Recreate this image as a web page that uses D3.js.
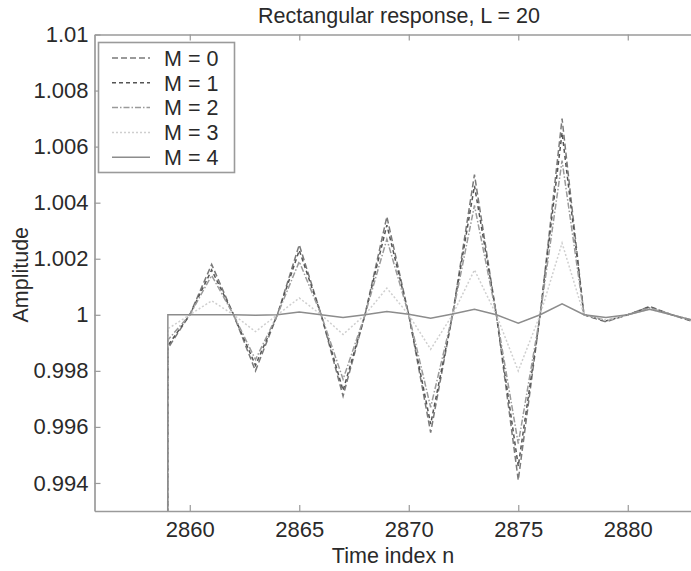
<!DOCTYPE html>
<html>
<head>
<meta charset="utf-8">
<script src="https://cdn.jsdelivr.net/npm/d3@7"></script>
<style>
  html, body { margin: 0; padding: 0; background: #fff; }
  svg { display: block; }
  text { font-family: "Liberation Sans", Arial, sans-serif; fill: #2a2a2a; }
</style>
</head>
<body>
<svg id="chart" width="691" height="571"></svg>
<script>
// ---- data ----
const n = [2858, 2859, 2860, 2861, 2862, 2863, 2864, 2865, 2866, 2867, 2868, 2869, 2870,
           2871, 2872, 2873, 2874, 2875, 2876, 2877, 2878, 2879, 2880, 2881, 2882, 2883];
const m0 = [0, 0.9988, 1.0000, 1.0018, 1.0000, 0.9980, 1.0000, 1.0025, 1.0000, 0.9971, 1.0000, 1.0035, 1.0000,
            0.9958, 1.0000, 1.0050, 1.0000, 0.9941, 1.0000, 1.0070, 1.0000, 0.99975, 1.0000, 1.0003, 1.0000, 0.99975];
const m1 = [0, 0.9989, 1.0000, 1.0016, 1.0000, 0.9982, 1.0000, 1.0023, 1.0000, 0.9973, 1.0000, 1.0032, 1.0000,
            0.9961, 1.0000, 1.0046, 1.0000, 0.9946, 1.0000, 1.0065, 1.0000, 0.99978, 1.0000, 1.00028, 1.0000, 0.99977];
const m2 = [0, 0.9991, 1.0000, 1.0014, 1.0000, 0.9984, 1.0000, 1.0019, 1.0000, 0.9977, 1.0000, 1.0027, 1.0000,
            0.9967, 1.0000, 1.0039, 1.0000, 0.9954, 1.0000, 1.0055, 1.0000, 0.9998, 1.0000, 1.00025, 1.0000, 0.9998];
const m3 = [0, 0.9995, 1.0000, 1.0005, 1.0000, 0.9994, 1.0000, 1.0006, 1.0000, 0.9993, 1.0000, 1.00095, 1.0000,
            0.99877, 1.0000, 1.0016, 1.0000, 0.9980, 1.0000, 1.00256, 1.0000, 0.9998, 1.0000, 1.0002, 1.0000, 0.9998];
const m4 = [0, 1.0000, 1.0000, 1.0000, 1.0000, 0.99998, 1.0000, 1.0001, 1.0000, 0.9999, 1.0000, 1.00012, 1.00002,
            0.99988, 1.00003, 1.0002, 1.0000, 0.9997, 1.0000, 1.00039, 1.0000, 0.9999, 1.0000, 1.0002, 1.0000, 0.9998];
const seriesNames = ["M = 0", "M = 1", "M = 2", "M = 3", "M = 4"];
const seriesValues = [m0, m1, m2, m3, m4];
const xTicks = [2860, 2865, 2870, 2875, 2880];
const yTicks = [0.994, 0.996, 0.998, 1, 1.002, 1.004, 1.006, 1.008, 1.01];
const titleText = "Rectangular response, L = 20";
const xLabel = "Time index n";
const yLabel = "Amplitude";

// ---- styles ----
const styles = [
  { stroke: "#7a7a7a", dash: "6,3", width: 1.5 },
  { stroke: "#555555", dash: "4,3", width: 1.5 },
  { stroke: "#9a9a9a", dash: "6,2,1.5,2", width: 1.5 },
  { stroke: "#cfcfcf", dash: "2,2", width: 1.5 },
  { stroke: "#8c8c8c", dash: null, width: 1.5 }
];

const svg = d3.select("#chart");
const pLeft = 94.5, pTop = 34.5, pBottom = 511;
const x = d3.scaleLinear().domain([2855.65, 2883]).range([pLeft, pLeft + 27.35 * 21.9]);
const y = d3.scaleLinear().domain([0.993, 1.01]).range([pBottom, pTop]);
const pRight = x.range()[1];

svg.append("defs").append("clipPath").attr("id", "clip")
  .append("rect").attr("x", pLeft).attr("y", pTop).attr("width", pRight - pLeft).attr("height", pBottom - pTop);

const axisColor = "#9a9a9a";

// lines
const line = d3.line().x((d, i) => x(n[i])).y(d => y(d));
const g = svg.append("g").attr("clip-path", "url(#clip)");
seriesValues.forEach((vals, k) => {
  const st = styles[k];
  g.append("path").datum(vals)
    .attr("d", line)
    .attr("fill", "none")
    .attr("stroke", st.stroke)
    .attr("stroke-width", st.width)
    .attr("stroke-dasharray", st.dash);
});

// axes (MATLAB-style inward ticks)
const tickLen = 6;
const bottomAxis = d3.axisBottom(x).tickValues(xTicks).tickSize(-tickLen).tickSizeOuter(0).tickPadding(10).tickFormat(d3.format("d"));
const topAxis = d3.axisTop(x).tickValues(xTicks).tickSize(-tickLen).tickSizeOuter(0).tickFormat("");
const leftAxis = d3.axisLeft(y).tickValues(yTicks).tickSize(-tickLen).tickSizeOuter(0).tickPadding(6).tickFormat(d => String(+d.toFixed(3)));

function styleAxis(sel) {
  sel.select(".domain").attr("stroke", axisColor).attr("stroke-width", 1.7);
  sel.selectAll(".tick line").attr("stroke", axisColor).attr("stroke-width", 1.2);
  sel.selectAll(".tick text").style("font-size", "22px").attr("fill", "#2a2a2a");
}

svg.append("g").attr("transform", `translate(0,${pBottom})`).call(bottomAxis).call(styleAxis);
svg.append("g").attr("transform", `translate(0,${pTop})`).call(topAxis).call(styleAxis);
svg.append("g").attr("transform", `translate(${pLeft},0)`).call(leftAxis).call(styleAxis);

// titles
svg.append("text").attr("x", 399).attr("y", 23).attr("text-anchor", "middle")
  .style("font-size", "21.5px").text(titleText);
svg.append("text").attr("x", 393).attr("y", 563).attr("text-anchor", "middle")
  .style("font-size", "21.5px").text(xLabel);
svg.append("text").attr("transform", `translate(27.5,${(pTop + pBottom) / 2 + 2}) rotate(-90)`).attr("text-anchor", "middle")
  .style("font-size", "21.5px").text(yLabel);

// legend
const lg = svg.append("g");
lg.append("rect").attr("x", 98.5).attr("y", 42.5).attr("width", 136).attr("height", 130)
  .attr("fill", "#fff").attr("stroke", axisColor).attr("stroke-width", 1.6);
seriesNames.forEach((name, k) => {
  const yy = 58 + k * 24.8;
  const st = styles[k];
  lg.append("line").attr("x1", 112).attr("x2", 150).attr("y1", yy).attr("y2", yy)
    .attr("stroke", st.stroke).attr("stroke-width", st.width).attr("stroke-dasharray", st.dash);
  lg.append("text").attr("x", 164).attr("y", yy).attr("dy", "0.36em")
    .style("font-size", "21.5px").text(name);
});
</script>
</body>
</html>
